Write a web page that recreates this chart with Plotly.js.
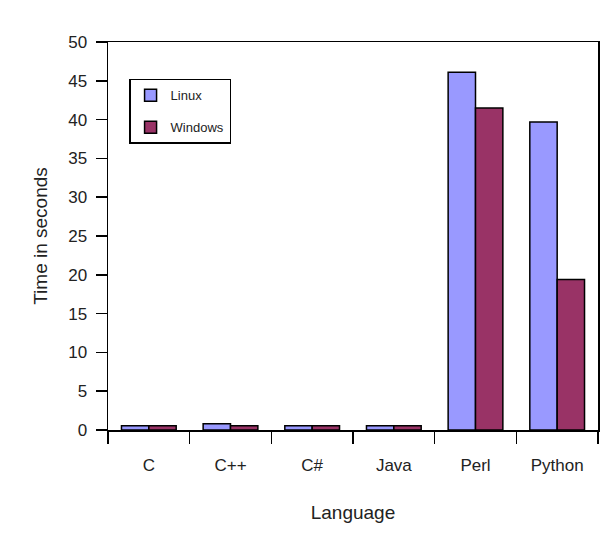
<!DOCTYPE html>
<html>
<head>
<meta charset="utf-8">
<script src="https://cdn.plot.ly/plotly-3.0.1.min.js"></script>
<style>html,body{margin:0;padding:0;background:#fff;}#chart{width:605px;height:533px;}</style>
</head>
<body>
<div id="chart"></div>
<script>
const categories = ["C", "C++", "C#", "Java", "Perl", "Python"];
const linuxTimes = [0.55, 0.8, 0.55, 0.55, 46.1, 39.7];
const windowsTimes = [0.55, 0.55, 0.55, 0.55, 41.5, 19.4];
const yTicks = [0, 5, 10, 15, 20, 25, 30, 35, 40, 45, 50];

const traces = [
  {type: "bar", name: "Linux", x: categories, y: linuxTimes, legendgroup: "a",
   marker: {color: "#9999FF", line: {color: "#000", width: 1.5}}},
  {type: "bar", name: "Windows", x: categories, y: windowsTimes, legendgroup: "b",
   marker: {color: "#993366", line: {color: "#000", width: 1.5}}}
];

const layout = {
  width: 605, height: 533,
  margin: {l: 108, r: 7, t: 42, b: 103},
  paper_bgcolor: "#fff", plot_bgcolor: "#fff",
  font: {family: "Liberation Sans, Arial, sans-serif", color: "#222", size: 13},
  barmode: "group", bargap: 0.33, bargroupgap: 0,
  showlegend: true,
  legend: {x: 0.043, y: 0.905, xanchor: "left", yanchor: "top",
    bordercolor: "#000", borderwidth: 1.5, bgcolor: "#fff",
    font: {size: 13, color: "#222"}, itemwidth: 30, tracegroupgap: 12,
    traceorder: "grouped"},
  xaxis: {type: "category", tickson: "boundaries", ticks: "outside", ticklen: 12,
    tickcolor: "#000", tickwidth: 1.5, showline: true, linecolor: "#000", linewidth: 1.5,
    mirror: true, showgrid: false, tickfont: {size: 17}, ticklabelstandoff: 19,
    title: {text: "Language", font: {size: 19}, standoff: 32}},
  yaxis: {range: [0, 50], tickvals: yTicks, ticks: "outside", ticklen: 11,
    tickcolor: "#000", tickwidth: 1.5, showline: true, linecolor: "#000", linewidth: 1.5,
    mirror: true, showgrid: false, zeroline: false, tickfont: {size: 17},
    ticklabelstandoff: 5,
    title: {text: "Time in seconds", font: {size: 19}, standoff: 15}}
};

Plotly.newPlot("chart", traces, layout, {displayModeBar: false, staticPlot: true});
</script>
</body>
</html>
